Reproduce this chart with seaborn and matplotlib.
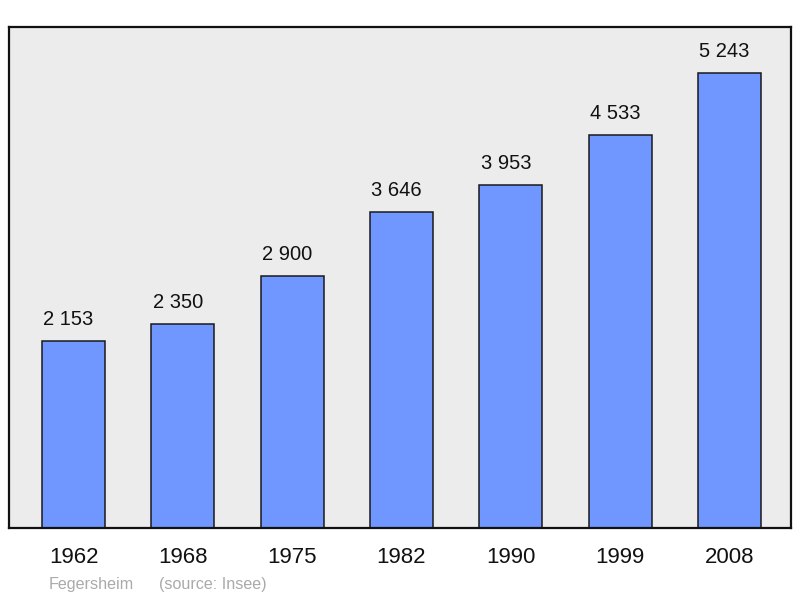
import matplotlib
matplotlib.use("Agg")
import matplotlib.pyplot as plt
import seaborn as sns
import pandas as pd

# Population data (Fegersheim, source: Insee)
years = ["1962", "1968", "1975", "1982", "1990", "1999", "2008"]
population = [2153, 2350, 2900, 3646, 3953, 4533, 5243]
labels = ["2 153", "2 350", "2 900", "3 646", "3 953", "4 533", "5 243"]

df = pd.DataFrame({"year": years, "population": population})

sns.set_style("white")
plt.rcParams["font.family"] = ["Liberation Sans", "DejaVu Sans"]

fig = plt.figure(figsize=(8, 5.98), dpi=100)
ax = fig.add_axes([0.01125, 0.1171, 0.9775, 0.8378])
ax.set_facecolor("#ececec")

sns.barplot(data=df, x="year", y="population", color="#7096ff", saturation=1,
            width=0.576, edgecolor="#1a1a1a", linewidth=1.1, ax=ax)

# value labels above bars
for i, (v, lab) in enumerate(zip(population, labels)):
    ax.annotate(lab, (i, v), xytext=(-3.6, 15.5), textcoords="offset points",
                ha="center", va="center", fontsize=14.5, color="#111111")

ax.set_xlim(-0.59, 6.563)
ax.set_ylim(0, 5777)
ax.set_xlabel("")
ax.set_ylabel("")
ax.set_yticks([])
ax.tick_params(axis="x", length=0, pad=14, labelsize=16, colors="#111111")

for s in ax.spines.values():
    s.set_color("#111111")
    s.set_linewidth(1.6)

fig.text(49 / 800, 1 - 584 / 598, "Fegersheim",
         fontsize=11.6, color="#aaaaaa", ha="left", va="center")
fig.text(159 / 800, 1 - 584 / 598, "(source: Insee)",
         fontsize=11.6, color="#aaaaaa", ha="left", va="center")

plt.savefig("out.png", dpi=100)
plt.close()
